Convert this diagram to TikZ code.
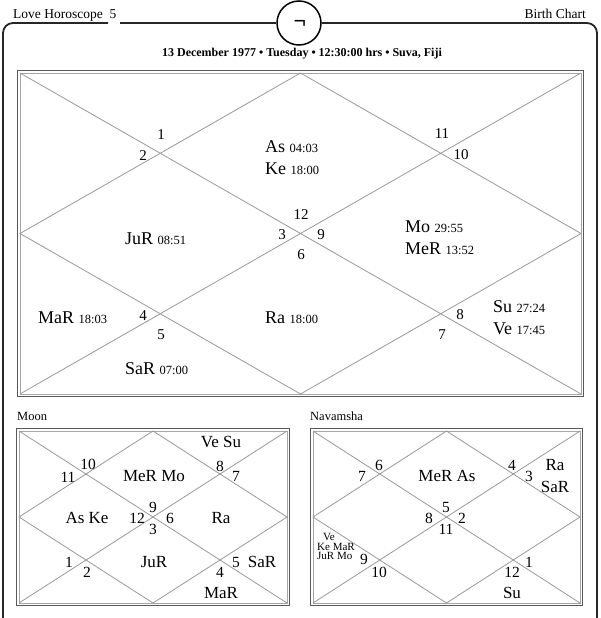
\documentclass[tikz,border=0pt]{standalone}
\usepackage{fontspec}
\setmainfont{Liberation Serif}
\begin{document}
\begin{tikzpicture}[x=1pt,y=-1pt]
\tikzset{
  frame/.style={draw=black!85, line width=1.8pt},
  bout/.style={draw=black!65, line width=1.2pt},
  bin/.style={draw=black!35, line width=0.8pt},
  gridline/.style={draw=black!40, line width=0.8pt},
  pl/.style={inner sep=0pt, anchor=mid west, font=\fontsize{18}{18}\selectfont},
  hn/.style={inner sep=0pt, anchor=mid, font=\fontsize{15}{15}\selectfont},
  spl/.style={inner sep=0pt, anchor=mid, font=\fontsize{17}{17}\selectfont},
  shn/.style={inner sep=0pt, anchor=mid, font=\fontsize{15.5}{15.5}\selectfont},
  tinytxt/.style={inner sep=0pt, anchor=mid west, text height=6pt, text depth=1pt, font=\fontsize{11}{11}\selectfont},
  head/.style={inner sep=0pt, font=\fontsize{13.5}{13.5}\selectfont},
  lbl/.style={inner sep=0pt, anchor=mid west, font=\fontsize{12.5}{12.5}\selectfont},
}
\newcommand\dg[1]{{\fontsize{12.5}{12.5}\selectfont #1}}
\newcommand\kundli[4]{%
  \draw[bout] (#1-2.5,#2-2.5) rectangle (#3+2.5,#4+2.5);
  \draw[bin] (#1,#2) rectangle (#3,#4);
  \draw[gridline] (#1,#2) -- (#3,#4) (#1,#4) -- (#3,#2);
  \draw[gridline] ({(#1+#3)/2},#2) -- (#3,{(#2+#4)/2}) -- ({(#1+#3)/2},#4) -- (#1,{(#2+#4)/2}) -- cycle;
}
\useasboundingbox (0,0) rectangle (600,618);
\fill[white] (0,0) rectangle (600,618);

% header
\node[circle, draw=black, line width=1.5pt, minimum size=44pt, inner sep=0pt, fill=white] (logo) at (299,23) {};
\node[inner sep=0pt, font=\bfseries\fontsize{22}{22}\selectfont] (sym) at (300,24) {¬};
\coordinate (fl) at (108,23);
\coordinate (fr) at (120,23);
\draw[frame, rounded corners=10pt] (fl) -- (3,23) -- (3,630);
\draw[frame] (fr) -- (logo.west);
\draw[frame, rounded corners=10pt] (logo.east) -- (597,23) -- (597,630);
\node[head, anchor=mid west] (lh) at (13,16) {Love Horoscope};
\node[head, anchor=mid] (lh5) at (113,16) {5};
\node[head, anchor=mid east] (bc) at (586,16) {Birth Chart};
\node[inner sep=0pt, anchor=mid, font=\bfseries\fontsize{12}{12}\selectfont] (date) at (302,54) {13 December 1977 • Tuesday • 12:30:00 hrs • Suva, Fiji};

% main chart
\kundli{20}{73}{581}{394}
\node[hn] (h1) at (161,137) {1};
\node[hn] (h2) at (143,158) {2};
\node[pl] (pAs) at (265,150) {As \dg{04:03}};
\node[pl] (pKe) at (265,172) {Ke \dg{18:00}};
\node[hn] (h11) at (442,136) {11};
\node[hn] (h10) at (461,157) {10};
\node[hn] (h12) at (301,217) {12};
\node[hn] (h3) at (282,237) {3};
\node[hn] (h9) at (321,237) {9};
\node[hn] (h6) at (301,257) {6};
\node[pl] (pJu) at (125,242) {JuR \dg{08:51}};
\node[pl] (pMo) at (405,230) {Mo \dg{29:55}};
\node[pl] (pMe) at (405,252) {MeR \dg{13:52}};
\node[pl] (pMa) at (38,321) {MaR \dg{18:03}};
\node[hn] (h4) at (143,318) {4};
\node[hn] (h5) at (161,337) {5};
\node[pl] (pRa) at (265,321) {Ra \dg{18:00}};
\node[pl] (pSa) at (125,372) {SaR \dg{07:00}};
\node[hn] (h8) at (460,317) {8};
\node[hn] (h7) at (442,337) {7};
\node[pl] (pSu) at (493,310) {Su \dg{27:24}};
\node[pl] (pVe) at (493,332) {Ve \dg{17:45}};

% Moon chart
\node[lbl] (moonlbl) at (17,418) {Moon};
\kundli{19}{431}{287}{603}
\node[shn] (m10) at (88,467) {10};
\node[shn] (m11) at (68,480) {11};
\node[spl] (mMeMo) at (154,479) {MeR Mo};
\node[spl] (mVeSu) at (221,445) {Ve Su};
\node[shn] (m8) at (220,469) {8};
\node[shn] (m7) at (236,479) {7};
\node[spl] (mAsKe) at (87,521) {As Ke};
\node[shn] (m12) at (137,521) {12};
\node[shn] (m9) at (153,510) {9};
\node[shn] (m6) at (170,521) {6};
\node[shn] (m3) at (153,532) {3};
\node[spl] (mRa) at (221,521) {Ra};
\node[shn] (m1) at (69,565) {1};
\node[shn] (m2) at (87,575) {2};
\node[spl] (mJu) at (154,565) {JuR};
\node[shn] (m5) at (236,565) {5};
\node[spl] (mSa) at (262,565) {SaR};
\node[shn] (m4) at (220,575) {4};
\node[spl] (mMa) at (221,596) {MaR};

% Navamsha chart
\node[lbl] (navlbl) at (310,418) {Navamsha};
\kundli{313}{431}{580}{603}
\node[shn] (n6) at (379,468) {6};
\node[shn] (n7) at (362,479) {7};
\node[spl] (nMeAs) at (447,479) {MeR As};
\node[shn] (n4) at (512,468) {4};
\node[shn] (n3) at (529,479) {3};
\node[spl] (nRa) at (555,468) {Ra};
\node[spl] (nSa) at (555,490) {SaR};
\node[shn] (n5) at (446,510) {5};
\node[shn] (n8) at (429,521) {8};
\node[shn] (n2) at (462,521) {2};
\node[shn] (n11) at (446,532) {11};
\node[tinytxt] (nVe) at (323,538.5) {Ve};
\node[tinytxt] (nKeMa) at (317,548) {Ke MaR};
\node[tinytxt] (nJuMo) at (317,557.5) {JuR Mo};
\node[shn] (n9) at (364,562) {9};
\node[shn] (n10) at (379,575) {10};
\node[shn] (n1) at (529,565) {1};
\node[shn] (n12) at (512,575) {12};
\node[spl] (nSu) at (512,596) {Su};
\end{tikzpicture}
\end{document}
